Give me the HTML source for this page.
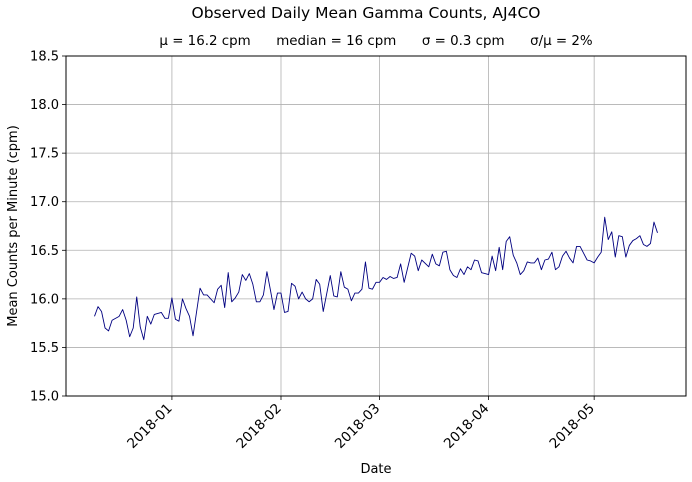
<!DOCTYPE html>
<html><head><meta charset="utf-8"><style>
body{margin:0;background:#fff;}
svg{display:block;font-family:"DejaVu Sans","Liberation Sans",sans-serif;}
</style></head><body>
<svg id="chart" width="692" height="482" viewBox="0 0 692 482">
<text x="366" y="18" font-size="15.5" text-anchor="middle">Observed Daily Mean Gamma Counts, AJ4CO</text>
<text x="376" y="45" font-size="13.4" text-anchor="middle" xml:space="preserve">μ = 16.2 cpm      median = 16 cpm      σ = 0.3 cpm      σ/μ = 2%</text>
<g id="grid"></g>
<g id="yaxis"></g>
<g id="xaxis"></g>
<path id="series" fill="none" stroke="#000080" stroke-width="0.9" stroke-linejoin="round"/>
<rect x="66" y="56" width="620" height="340" fill="none" stroke="#000" stroke-width="1"/>
<text x="376" y="473" font-size="13" text-anchor="middle">Date</text>
<text transform="translate(17,226) rotate(-90)" font-size="13" text-anchor="middle">Mean Counts per Minute (cpm)</text>
</svg>
<script>
// days since 2018-01-01
const dayOffsets=[-22,-21,-20,-19,-18,-17,-15,-14,-13,-12,-11,-10,-9,-8,-7,-6,-5,-3,-2,-1,0,1,2,3,4,5,6,8,9,10,12,13,14,15,16,17,18,
19,20,21,22,23,24,25,26,27,28,29,30,31,32,33,34,35,36,37,38,39,40,41,42,43,45,46,47,48,49,50,51,52,53,54,55,56,57,58,
59,60,61,62,63,64,65,66,68,69,70,71,73,74,75,76,77,78,79,80,81,82,83,84,85,86,87,88,89,90,91,92,93,94,95,96,97,
98,99,100,101,102,103,104,105,106,107,108,109,110,111,112,113,114,115,116,117,118,119,120,121,122,123,124,125,126,127,128,129,130,131,132,133,134,135,136,137,138];
const counts=[15.82,15.92,15.87,15.70,15.67,15.78,15.82,15.89,15.78,15.61,15.70,16.02,15.71,15.58,15.82,15.74,15.84,15.86,15.80,15.80,16.01,15.79,15.77,16.00,15.90,15.82,15.62,16.11,16.04,16.04,15.96,16.10,16.14,15.91,16.27,15.97,16.01,
16.07,16.25,16.19,16.26,16.15,15.97,15.97,16.04,16.28,16.09,15.89,16.06,16.06,15.86,15.87,16.16,16.13,16.00,16.07,16.00,15.97,16.00,16.20,16.15,15.87,16.24,16.03,16.02,16.28,16.12,16.10,15.98,16.06,16.06,16.10,16.38,16.11,16.10,16.17,
16.17,16.22,16.20,16.23,16.21,16.22,16.36,16.17,16.47,16.44,16.29,16.40,16.33,16.46,16.36,16.34,16.48,16.49,16.30,16.24,16.22,16.31,16.25,16.33,16.30,16.40,16.39,16.27,16.26,16.25,16.44,16.29,16.53,16.30,16.59,16.64,16.45,
16.37,16.25,16.29,16.38,16.37,16.37,16.42,16.30,16.40,16.41,16.48,16.30,16.33,16.44,16.49,16.42,16.37,16.54,16.54,16.47,16.40,16.39,16.37,16.43,16.48,16.84,16.61,16.69,16.43,16.65,16.64,16.43,16.55,16.60,16.62,16.65,16.56,16.54,16.57,16.79,16.68];
const xTickDays=[0,31,59,90,120];
const xTickLabels=["2018-01","2018-02","2018-03","2018-04","2018-05"];
const yTicks=[15.0,15.5,16.0,16.5,17.0,17.5,18.0,18.5];

const NS="http://www.w3.org/2000/svg";
const X0=66,X1=686,Y0=56,Y1=396,DMIN=-30.1,DMAX=146.1,VMIN=15,VMAX=18.5;
function xScale(d){return X0+(d-DMIN)/(DMAX-DMIN)*(X1-X0);}
function yScale(v){return Y1-(v-VMIN)/(VMAX-VMIN)*(Y1-Y0);}
function mk(tag,attrs,parent){const e=document.createElementNS(NS,tag);for(const k in attrs)e.setAttribute(k,attrs[k]);parent.appendChild(e);return e;}
const grid=document.getElementById('grid'),ya=document.getElementById('yaxis'),xa=document.getElementById('xaxis');
yTicks.forEach(t=>{
  const y=yScale(t);
  const g=mk('line',{x1:X0,x2:X1,y1:y,y2:y,stroke:'#b0b0b0','stroke-width':0.8},grid);
  
  
  const tk=mk('line',{x1:X0-4,x2:X0,y1:y,y2:y,stroke:'#000','stroke-width':0.8},ya);
  
  
  const tx=mk('text',{x:X0-7,y:y+4.5,'font-size':13,'text-anchor':'end'},ya);
  tx.textContent=t.toFixed(1);
  
  
});
xTickDays.forEach((d,i)=>{
  const x=xScale(d);
  const g=mk('line',{x1:x,x2:x,y1:Y0,y2:Y1,stroke:'#b0b0b0','stroke-width':0.8},grid);
  
  
  const tk=mk('line',{x1:x,x2:x,y1:Y1,y2:Y1+4,stroke:'#000','stroke-width':0.8},xa);
  
  
  const tx=mk('text',{transform:`translate(${x+1},${Y1+13}) rotate(-45)`,'font-size':13.6,'text-anchor':'end'},xa);
  tx.textContent=xTickLabels[i];
  
  
});
let d='';
dayOffsets.forEach((o,i)=>{d+=(i?'L':'M')+xScale(o).toFixed(2)+','+yScale(counts[i]).toFixed(2);});
document.getElementById('series').setAttribute('d',d);
</script>
</body></html>
